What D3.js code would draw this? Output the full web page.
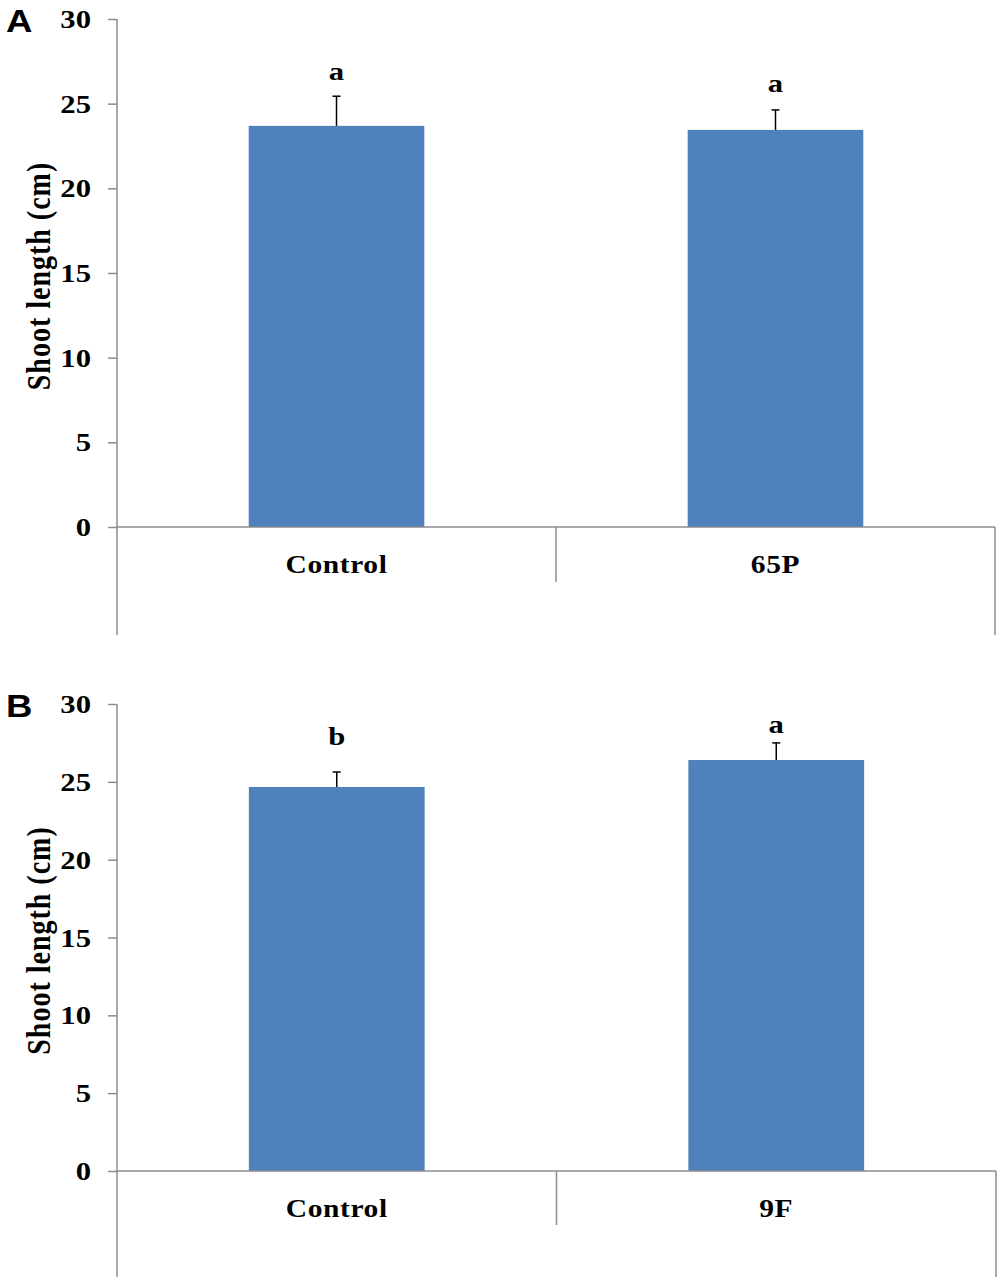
<!DOCTYPE html>
<html>
<head>
<meta charset="utf-8">
<script src="https://cdn.jsdelivr.net/npm/d3@7"></script>
<style>
  html, body { margin: 0; padding: 0; background: #fff; }
  svg { display: block; }
  text.serif { font-family: "Liberation Serif", "Times New Roman", serif; font-weight: bold; fill: #000; }
</style>
</head>
<body>
<svg id="chart" width="1000" height="1281"></svg>
<script>
// ---- data ----
const panelLabels = ["A", "B"];
const categoriesA = ["Control", "65P"];
const valuesA = [23.69, 23.45];
const errorsA = [1.75, 1.18];
const lettersA = ["a", "a"];
const letterAtA = [26.4, 25.7];

const categoriesB = ["Control", "9F"];
const valuesB = [24.67, 26.4];
const errorsB = [0.96, 1.1];
const lettersB = ["b", "a"];
const letterAtB = [27.37, 28.14];

const yTicks = [0, 5, 10, 15, 20, 25, 30];
const yTitle = "Shoot length (cm)";

// ---- layout ----
const svg = d3.select("#chart");
const barColor = "#4f81bd";
const axisColor = "#8c8c8c";
const SX = 1.18; // horizontal stretch of the original figure's text

const panels = [
  { label: panelLabels[0], cats: categoriesA, vals: valuesA, errs: errorsA, letters: lettersA, letterAt: letterAtA,
    top: 19, bottom: 527, left: 117, right: 995, midLow: 582, frameLow: 635 },
  { label: panelLabels[1], cats: categoriesB, vals: valuesB, errs: errorsB, letters: lettersB, letterAt: letterAtB,
    top: 704, bottom: 1171, left: 117, right: 996, midLow: 1225, frameLow: 1277 }
];

function stretchedText(g, x, y, str, size, anchor, rotate) {
  return g.append("text")
    .attr("class", "serif")
    .attr("font-family", "Liberation Serif")
    .attr("transform", `translate(${x},${y}) scale(${SX},1)` + (rotate ? ` rotate(${rotate})` : ""))
    .attr("text-anchor", anchor)
    .style("font-size", size + "px")
    .text(str);
}

panels.forEach(p => {
  const g = svg.append("g");
  const y = d3.scaleLinear().domain([0, 30]).range([p.bottom, p.top]);
  const x = d3.scaleBand().domain(p.cats).range([p.left, p.right]).paddingInner(0.6).paddingOuter(0.3);
  const step = x.step();

  // bars
  g.selectAll("rect.bar").data(p.cats).join("rect")
    .attr("class", "bar")
    .attr("x", d => x(d))
    .attr("width", x.bandwidth())
    .attr("y", (d, i) => y(p.vals[i]))
    .attr("height", (d, i) => y(0) - y(p.vals[i]))
    .attr("fill", barColor);

  // error bars
  const eb = g.selectAll("g.err").data(p.cats).join("g").attr("class", "err");
  eb.append("line")
    .attr("x1", d => x(d) + x.bandwidth() / 2).attr("x2", d => x(d) + x.bandwidth() / 2)
    .attr("y1", (d, i) => y(p.vals[i])).attr("y2", (d, i) => y(p.vals[i] + p.errs[i]))
    .attr("stroke", "#000").attr("stroke-width", 1.5);
  eb.append("line")
    .attr("x1", d => x(d) + x.bandwidth() / 2 - 4).attr("x2", d => x(d) + x.bandwidth() / 2 + 4)
    .attr("y1", (d, i) => y(p.vals[i] + p.errs[i])).attr("y2", (d, i) => y(p.vals[i] + p.errs[i]))
    .attr("stroke", "#000").attr("stroke-width", 1.5);

  // significance letters
  p.cats.forEach((c, i) => {
    stretchedText(g, x(c) + x.bandwidth() / 2, y(p.letterAt[i]), p.letters[i], 26, "middle");
  });

  // y axis
  const yAxis = d3.axisLeft(y).tickValues(yTicks).tickSize(9).tickPadding(0).tickFormat(d3.format("d"));
  const ya = g.append("g").attr("transform", `translate(${p.left},0)`).call(yAxis);
  ya.select(".domain").remove();
  ya.selectAll(".tick line").attr("stroke", axisColor).attr("stroke-width", 1.5);
  ya.selectAll(".tick text").remove();
  yTicks.forEach(t => {
    stretchedText(g, 91, y(t) + 9, String(t), 26, "end");
  });

  // left vertical axis line (extends below zero like the category frame)
  g.append("line").attr("x1", p.left).attr("x2", p.left).attr("y1", y(30)).attr("y2", p.frameLow)
    .attr("stroke", axisColor).attr("stroke-width", 1.5);
  // x axis line
  g.append("line").attr("x1", p.left).attr("x2", p.right).attr("y1", y(0)).attr("y2", y(0))
    .attr("stroke", axisColor).attr("stroke-width", 1.5);
  // category dividers
  p.cats.forEach((c, i) => {
    if (i === 0) return;
    const bx = p.left + step * i;
    g.append("line").attr("x1", bx).attr("x2", bx).attr("y1", y(0)).attr("y2", p.midLow)
      .attr("stroke", axisColor).attr("stroke-width", 1.5);
  });
  g.append("line").attr("x1", p.right).attr("x2", p.right).attr("y1", y(0)).attr("y2", p.frameLow)
    .attr("stroke", axisColor).attr("stroke-width", 1.5);

  // category labels
  p.cats.forEach(c => {
    stretchedText(g, x(c) + x.bandwidth() / 2, y(0) + 46, c, 25, "middle").style("letter-spacing", "0.5px");
  });

  // y title
  stretchedText(g, 50, (y(0) + y(30)) / 2 + 3, yTitle, 28, "middle", -90).style("letter-spacing", "1px");

  // panel letter
  g.append("text")
    .attr("transform", `translate(6,${p.top + 13}) scale(${SX},1)`)
    .style("font-family", "'Liberation Sans', Arial, sans-serif")
    .style("font-size", "31px")
    .style("font-weight", "bold")
    .style("fill", "#000")
    .text(p.label);
});
</script>
</body>
</html>
